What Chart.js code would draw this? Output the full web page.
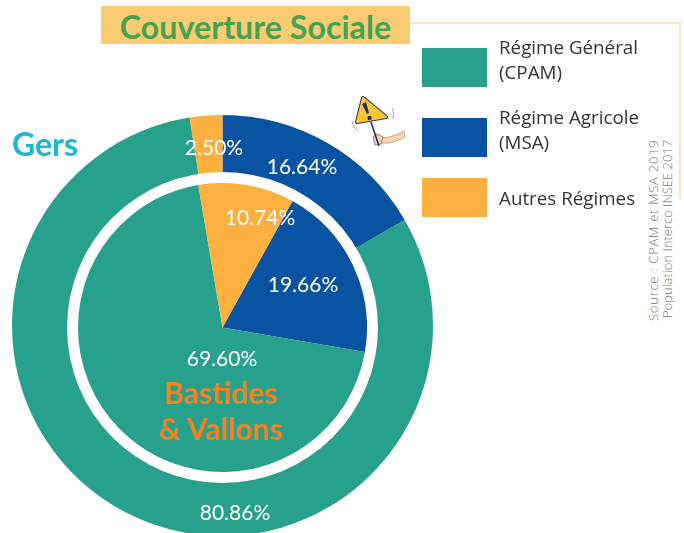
<!DOCTYPE html>
<html lang="fr">
<head>
<meta charset="utf-8">
<title>Couverture Sociale</title>
<script src="https://cdn.jsdelivr.net/npm/chart.js@4"></script>
<style>
    html, body { margin: 0; padding: 0; background: #fff; }
    #page { position: relative; width: 684px; height: 533px; overflow: hidden; font-family: "Open Sans", sans-serif; }
    #page > * { position: absolute; }
    #frame { left: 410px; top: 22px; width: 269px; height: 175px; border-top: 2px solid #fde4bb; border-right: 2px solid #fde4bb; }
    #titre { left: 101px; top: 6px; width: 309px; height: 38px; background: #fbcb74; color: #45a24f; font: 700 32.2px/41px Lato, sans-serif; text-align: center; }
    #boxGers { left: 12px; top: 115px; width: 421px; height: 421px; }
    #ringBastides { left: 66.5px; top: 172px; width: 311px; height: 311px; border-radius: 50%; background: #fff; }
    #boxBastides { position: absolute; left: 11px; top: 11px; width: 289px; height: 289px; }
    .pct { color: #fff; font: 400 21px/24px Lato, sans-serif; transform: translate(-50%, -50%); white-space: nowrap; }
    .nom { font: 700 30px/36px Lato, sans-serif; text-align: center; white-space: nowrap; transform: translate(-50%, -50%); }
    .carre { left: 422px; width: 65px; height: 39px; }
    .leg { left: 499px; color: #333; font-size: 18.8px; line-height: 25px; white-space: nowrap; }
    .src { color: #777; font-size: 13px; font-weight: 300; line-height: 14px; white-space: nowrap; transform-origin: 0 0; transform: rotate(-90deg); }
</style>
</head>
<body>
<div id="page">
    <div id="frame"></div>
    <div id="titre">Couverture Sociale</div>
    <div id="boxGers"><canvas id="graficaGers"></canvas></div>
    <div id="ringBastides"><div id="boxBastides"><canvas id="graficaBastides"></canvas></div></div>
    <div class="nom" style="left:45px;top:144px;color:#1cb8cf;font-size:32px">Gers</div>
    <div class="nom" style="left:221px;top:392px;color:#f58220">Bastides</div>
    <div class="nom" style="left:221px;top:428px;color:#f58220">&amp; Vallons</div>
    <div class="src" style="left:646px;top:321px;letter-spacing:0.75px">Source : CPAM et MSA 2019</div>
    <div class="src" style="left:660px;top:318px">Population Interco INSEE 2017</div>
    <svg style="left:0;top:0" width="684" height="533" viewBox="0 0 684 533">
        <path d="M380 137 C388 139 396 135 404 131 L405 137 C396 142 388 144 380 143 Z" fill="#f8d3b0" stroke="#b98a6a" stroke-width="0.7"/>
        <path d="M373 137 L377 134 L383 137 L381 144 L375 145 Z" fill="#f8d3b0" stroke="#8a6a55" stroke-width="0.8"/>
        <path d="M371 122 L379 146" stroke="#26306b" stroke-width="1.6"/>
        <path d="M363 98 L357 122 L386 117 Z" fill="#26306b" stroke="#26306b" stroke-width="4" stroke-linejoin="round"/>
        <path d="M363 98 L357 122 L386 117 Z" fill="#fcc62d" stroke="#fcc62d" stroke-width="2" stroke-linejoin="round"/>
        <path d="M362 104 L366 102 L369 113 L367 114 Z" fill="#26306b"/>
        <circle cx="369.5" cy="118" r="2.2" fill="#26306b"/>
        <path d="M352 121 Q352 127 358 131 M392 108 Q395 113 393 119" fill="none" stroke="#9a9aa8" stroke-width="0.9"/>
    </svg>
</div>

<script>
const categorias = ['Régime Agricole (MSA)', 'Régime Général (CPAM)', 'Autres Régimes'];
const coloresCategorias = ['#0a53a3', '#27a18b', '#fdb03f'];
const valoresGers = [16.64, 80.86, 2.50];
const valoresBastides = [19.66, 69.60, 10.74];

const etiquetasLeyenda = [
    ['Régime Général', '(CPAM)'],
    ['Régime Agricole', '(MSA)'],
    ['Autres Régimes']
];
const coloresLeyenda = ['#27a18b', '#0a53a3', '#fdb03f'];
const topCuadros = [48, 118, 178];
const topTextos = [35, 105, 186];

// sitio de cada porcentaje, en el mismo orden que los valores
const sitiosGers = [[302, 166], [235, 512], [214, 147]];
const sitiosBastides = [[303, 284], [222, 358], [260, 217]];

const pagina = document.getElementById('page');

function crearGrafica(id, valores, giro, recorte) {
    return new Chart(document.getElementById(id).getContext('2d'), {
        type: 'doughnut',
        data: {
            labels: categorias,
            datasets: [{
                data: valores,
                backgroundColor: coloresCategorias,
                borderWidth: 0
            }]
        },
        options: {
            responsive: true,
            maintainAspectRatio: false,
            animation: false,
            rotation: giro,
            cutout: recorte,
            layout: { padding: 0 },
            plugins: {
                legend: { display: false },
                tooltip: { enabled: false }
            }
        }
    });
}

function ponerPorcentajes(valores, sitios) {
    valores.forEach((v, i) => {
        const span = document.createElement('div');
        span.className = 'pct';
        span.style.left = sitios[i][0] + 'px';
        span.style.top = sitios[i][1] + 'px';
        span.textContent = v.toFixed(2) + '%';
        pagina.appendChild(span);
    });
}

function ponerLeyenda() {
    etiquetasLeyenda.forEach((lineas, i) => {
        const cuadro = document.createElement('div');
        cuadro.className = 'carre';
        cuadro.style.top = topCuadros[i] + 'px';
        cuadro.style.background = coloresLeyenda[i];
        pagina.appendChild(cuadro);

        const texto = document.createElement('div');
        texto.className = 'leg';
        texto.style.top = topTextos[i] + 'px';
        texto.innerHTML = lineas.join('<br>');
        pagina.appendChild(texto);
    });
}

crearGrafica('graficaGers', valoresGers, 0, '71%');
crearGrafica('graficaBastides', valoresBastides, 29, 0);
ponerPorcentajes(valoresGers, sitiosGers);
ponerPorcentajes(valoresBastides, sitiosBastides);
ponerLeyenda();
</script>
</body>
</html>
